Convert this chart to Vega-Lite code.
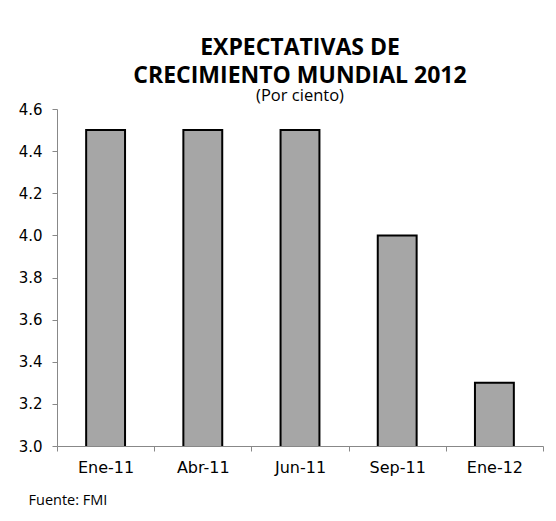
{
  "$schema": "https://vega.github.io/schema/vega-lite/v6.json",
  "autosize": "none",
  "width": 486,
  "height": 337,
  "padding": {"left": 57, "top": 109, "right": 13, "bottom": 75},
  "background": "white",
  "title": {
    "text": ["EXPECTATIVAS DE", "CRECIMIENTO MUNDIAL 2012"],
    "subtitle": "(Por ciento)",
    "anchor": "middle",
    "font": "Open Sans",
    "fontSize": 23,
    "fontWeight": "bold",
    "lineHeight": 28,
    "color": "black",
    "subtitleFont": "Open Sans",
    "subtitleFontSize": 16.5,
    "subtitleColor": "black",
    "subtitlePadding": 0,
    "offset": -2
  },
  "data": {
    "values": [
      {"periodo": "Ene-11", "valor": 4.5},
      {"periodo": "Abr-11", "valor": 4.5},
      {"periodo": "Jun-11", "valor": 4.5},
      {"periodo": "Sep-11", "valor": 4.0},
      {"periodo": "Ene-12", "valor": 3.3}
    ]
  },
  "mark": {"type": "bar", "color": "#A6A6A6", "stroke": "black", "strokeWidth": 2, "width": {"band": 0.4}, "clip": true},
  "encoding": {
    "x": {
      "field": "periodo",
      "type": "nominal",
      "sort": null,
      "scale": {"paddingInner": 0, "paddingOuter": 0},
      "axis": {
        "title": "Fuente: FMI",
        "titleAnchor": "start",
        "titleAlign": "left",
        "titleX": -29,
        "titleY": 47,
        "titleFont": "Open Sans",
        "titleFontSize": 14.5,
        "titleFontWeight": "normal",
        "titleColor": "black",
        "labelAngle": 0,
        "labelFont": "DejaVu Sans",
        "labelFontSize": 16,
        "labelColor": "black",
        "labelPadding": 8,
        "tickBand": "extent",
        "tickSize": 5,
        "tickColor": "#888888",
        "domainColor": "#888888",
        "grid": false
      }
    },
    "y": {
      "field": "valor",
      "type": "quantitative",
      "scale": {"domain": [3.0, 4.6], "nice": false, "zero": false},
      "axis": {
        "title": null,
        "values": [3.0, 3.2, 3.4, 3.6, 3.8, 4.0, 4.2, 4.4, 4.6],
        "format": ".1f",
        "labelFont": "DejaVu Sans",
        "labelFontSize": 15,
        "labelColor": "black",
        "labelPadding": 10,
        "tickSize": 5,
        "tickColor": "#888888",
        "domainColor": "#888888",
        "grid": false
      }
    }
  },
  "config": {"view": {"stroke": null}}
}
